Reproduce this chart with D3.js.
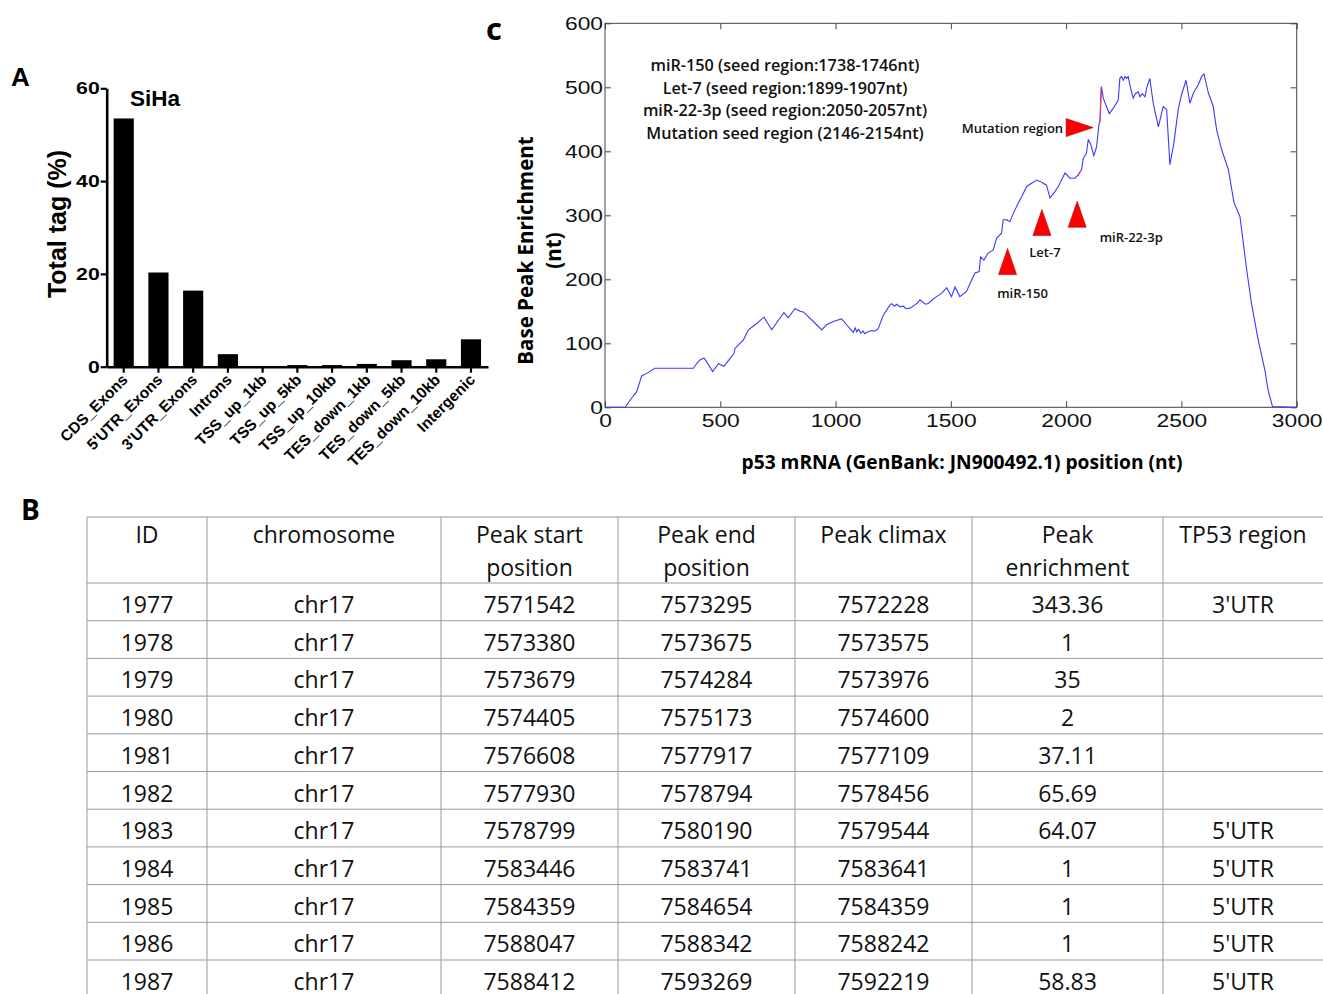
<!DOCTYPE html>
<html lang="en">
<head>
<meta charset="UTF-8">
<title>p53 peaks</title>
<script src="https://cdn.jsdelivr.net/npm/d3@7"></script>
<style>
	body { margin: 0; background: #fff; }
	svg { display: block; }
	.cal { font-family: 'Open Sans', sans-serif; }
	.ari { font-family: 'Liberation Sans', Arial, sans-serif; }
</style>
</head>
<body>
<div id="fig"></div>
<script>
// ---- panel A data
const regionNames = ['CDS_Exons', "5'UTR_Exons", "3'UTR_Exons", 'Introns', 'TSS_up_1kb', 'TSS_up_5kb',
	'TSS_up_10kb', 'TES_down_1kb', 'TES_down_5kb', 'TES_down_10kb', 'Intergenic'];
const regionTags = [53.5, 20.3, 16.4, 2.7, 0.1, 0.35, 0.35, 0.6, 1.4, 1.6, 5.9];
const tagTicks = [0, 20, 40, 60];

// ---- panel C data (p53 mRNA position, base peak enrichment)
const posNt = [0, 87, 123, 137, 159, 181, 217, 383, 397, 412, 429, 441, 467, 492, 516, 535, 559, 564, 583, 600,
	622, 658, 690, 701, 723, 752, 776, 795, 824, 846, 860, 875, 918, 940, 961, 990, 1026, 1048, 1077, 1085, 1092, 1099,
	1110, 1120, 1127, 1140, 1156, 1170, 1185, 1207, 1236, 1243, 1255, 1265, 1280, 1294, 1305, 1323, 1344, 1355, 1366,
	1380, 1390, 1402, 1420, 1438, 1460, 1482, 1503, 1518, 1539, 1568,
	1590, 1605, 1623, 1629, 1643, 1662, 1684, 1698, 1720, 1727, 1742, 1756, 1771, 1792, 1807, 1829, 1850, 1872,
	1886, 1901, 1915, 1930, 1951, 1966, 1980, 1995, 2017, 2038, 2052, 2067, 2074, 2088, 2096, 2106, 2120, 2132,
	2143, 2146, 2153, 2161, 2187, 2204, 2226, 2233, 2240, 2248, 2255, 2262, 2269, 2280, 2291, 2300, 2313, 2320, 2330,
	2342, 2350, 2363, 2370, 2378, 2400, 2421, 2436,
	2450, 2467, 2486, 2500, 2520, 2537, 2552, 2573, 2588, 2598, 2617, 2638, 2653, 2675, 2704, 2728, 2754, 2783,
	2804, 2833, 2862, 2876, 2895, 3000];
const enrich = [0, 0, 18, 24, 49, 53, 61, 61, 68, 74, 77, 71, 56, 68, 64, 73, 84, 92, 99, 105,
	121, 131, 141, 134, 121, 136, 148, 140, 154, 150, 149, 144, 129, 121, 129, 134, 138, 129, 117, 124, 118, 122,
	116, 119, 115, 118, 120, 119, 123, 144, 160, 162, 158, 161, 157, 158, 154, 155, 160, 163, 168,
	164, 161, 162, 168, 173, 178, 187, 173, 188, 173, 181,
	199, 210, 212, 235, 230, 241, 246, 264, 272, 293, 293, 290, 303, 319, 329, 345, 350, 355,
	353, 350, 347, 327, 337, 345, 355, 366, 358, 358, 363, 371, 389, 397, 418, 412, 393, 407,
	444, 446, 501, 483, 459, 467, 480, 514, 517, 511, 517, 514, 517, 498, 483, 490, 493, 485, 490,
	485, 500, 514, 495, 475, 438, 470, 465,
	379, 412, 465, 488, 511, 475, 491, 504, 517, 521, 491, 470, 433, 402, 371, 320, 298, 215,
	162, 105, 58, 27, 1, 0];
const seedRanges = [[1738, 1746], [1899, 1907], [2050, 2057], [2146, 2154]];
const seedNotes = ['miR-150 (seed region:1738-1746nt)', 'Let-7 (seed region:1899-1907nt)',
	'miR-22-3p (seed region:2050-2057nt)', 'Mutation seed region (2146-2154nt)'];
const markerNames = ['miR-150', 'Let-7', 'miR-22-3p', 'Mutation region'];
const markerNt = [1746, 1895, 2048, 2117];
const markerVal = [248, 309, 322, 437];
const markerDir = ['up', 'up', 'up', 'right'];
const posTicks = [0, 500, 1000, 1500, 2000, 2500, 3000];
const enrichTicks = [0, 100, 200, 300, 400, 500, 600];

// ---- table B data
const tableHead = [['ID'], ['chromosome'], ['Peak start', 'position'], ['Peak end', 'position'],
	['Peak climax'], ['Peak', 'enrichment'], ['TP53 region']];
const peakId = [1977, 1978, 1979, 1980, 1981, 1982, 1983, 1984, 1985, 1986, 1987];
const peakChr = Array(11).fill('chr17');
const peakStart = [7571542, 7573380, 7573679, 7574405, 7576608, 7577930, 7578799, 7583446, 7584359, 7588047, 7588412];
const peakEnd = [7573295, 7573675, 7574284, 7575173, 7577917, 7578794, 7580190, 7583741, 7584654, 7588342, 7593269];
const peakClimax = [7572228, 7573575, 7573976, 7574600, 7577109, 7578456, 7579544, 7583641, 7584359, 7588242, 7592219];
const peakEnrich = ['343.36', '1', '35', '2', '37.11', '65.69', '64.07', '1', '1', '1', '58.83'];
const peakRegion = ["3'UTR", '', '', '', '', '', "5'UTR", "5'UTR", "5'UTR", "5'UTR", "5'UTR"];

const W = 1323, H = 994;
const svg = d3.select('#fig').append('svg').attr('width', W).attr('height', H);
svg.append('rect').attr('width', W).attr('height', H).attr('fill', '#fff');

// widen text horizontally around its anchor (source figure fonts are wide)
function widen(sel, k) {
	sel.each(function () {
		const t = d3.select(this);
		const x = +t.attr('x') || 0, y = +t.attr('y') || 0;
		t.attr('transform', `translate(${x},${y}) scale(${k},1) translate(${-x},${-y})`);
	});
}

// ================= Panel A =================
const gA = svg.append('g');
const xA = d3.scaleBand().domain(regionNames).range([106.7, 488]).paddingInner(0.42).paddingOuter(0.2);
const yA = d3.scaleLinear().domain([0, 60]).range([366.7, 88.3]);

gA.selectAll('.bar').data(regionNames).enter().append('rect')
	.attr('x', d => xA(d)).attr('width', xA.bandwidth())
	.attr('y', (d, i) => yA(regionTags[i])).attr('height', (d, i) => yA(0) - yA(regionTags[i]))
	.attr('fill', '#000');

const axA_y = gA.append('g').attr('transform', 'translate(106.7,0)')
	.call(d3.axisLeft(yA).tickValues(tagTicks).tickSizeInner(6).tickSizeOuter(0).tickPadding(1));
const axA_x = gA.append('g').attr('transform', 'translate(0,366.7)')
	.call(d3.axisBottom(xA).tickSizeInner(6).tickSizeOuter(0));
[axA_y, axA_x].forEach(a => {
	a.select('.domain').attr('stroke-width', 2.6).attr('stroke', '#000');
	a.selectAll('.tick line').attr('stroke-width', 2.2).attr('stroke', '#000');
});
axA_y.selectAll('text').attr('class', 'ari').attr('font-size', 17).attr('font-weight', 'bold').attr('fill', '#000');
widen(axA_y.selectAll('text'), 1.25);
axA_x.selectAll('text').attr('class', 'ari').attr('font-size', 15.5).attr('font-weight', 'bold').attr('fill', '#000')
	.attr('text-anchor', 'end').attr('dy', null).attr('x', 5).attr('y', 14)
	.attr('transform', 'rotate(-45,5,14)');

gA.append('text').attr('class', 'ari').attr('x', 11).attr('y', 86).attr('font-size', 26).attr('font-weight', 'bold').text('A');
gA.append('text').attr('class', 'ari').attr('x', 130).attr('y', 106).attr('font-size', 22.5).attr('font-weight', 'bold').text('SiHa');
gA.append('text').attr('class', 'ari').attr('font-size', 25).attr('font-weight', 'bold')
	.attr('text-anchor', 'middle').attr('transform', 'translate(66,224) rotate(-90)').text('Total tag (%)');

// ================= Panel C =================
const gC = svg.append('g');
const xC = d3.scaleLinear().domain([0, 3000]).range([605, 1296.7]);
const yC = d3.scaleLinear().domain([0, 600]).range([407.3, 23.3]);
const frameCol = '#444';

gC.append('rect').attr('x', xC(0)).attr('y', yC(600)).attr('width', xC(3000) - xC(0)).attr('height', yC(0) - yC(600))
	.attr('fill', 'none').attr('stroke', frameCol).attr('stroke-width', 1);

const axC_b = gC.append('g').attr('transform', `translate(0,${yC(0)})`)
	.call(d3.axisBottom(xC).tickValues(posTicks).tickSizeInner(-6).tickSizeOuter(0).tickPadding(6).tickFormat(d3.format('d')));
const axC_l = gC.append('g').attr('transform', `translate(${xC(0)},0)`)
	.call(d3.axisLeft(yC).tickValues(enrichTicks).tickSizeInner(-6).tickSizeOuter(0).tickPadding(2));
const axC_t = gC.append('g').attr('transform', `translate(0,${yC(600)})`)
	.call(d3.axisTop(xC).tickValues(posTicks).tickSizeInner(-6).tickSizeOuter(0).tickFormat(''));
const axC_r = gC.append('g').attr('transform', `translate(${xC(3000)},0)`)
	.call(d3.axisRight(yC).tickValues(enrichTicks).tickSizeInner(-6).tickSizeOuter(0).tickFormat(''));
[axC_b, axC_l, axC_t, axC_r].forEach(a => {
	a.select('.domain').remove();
	a.selectAll('.tick line').attr('stroke', frameCol);
});
[axC_b, axC_l].forEach(a => {
	a.selectAll('text').attr('class', 'ari').attr('font-size', 19).attr('fill', '#111');
	widen(a.selectAll('text'), 1.2);
});

const pts = posNt.map((p, i) => [p, enrich[i]]);
const line = d3.line().x(d => xC(d[0])).y(d => yC(d[1]));
gC.append('path').datum(pts).attr('d', line).attr('fill', 'none').attr('stroke', '#3a3aff').attr('stroke-width', 1.1);

// seed regions in red
const defs = svg.append('defs');
seedRanges.forEach((r, i) => {
	defs.append('clipPath').attr('id', 'seed' + i).append('rect')
		.attr('x', xC(r[0])).attr('width', Math.max(xC(r[1]) - xC(r[0]), 1.5)).attr('y', 0).attr('height', H);
	gC.append('path').datum(pts).attr('d', line).attr('fill', 'none').attr('stroke', '#ff3030')
		.attr('stroke-width', 1.3).attr('clip-path', `url(#seed${i})`);
});

// seed note block
gC.append('g').selectAll('text').data(seedNotes).enter().append('text')
	.attr('class', 'cal').attr('x', 785).attr('y', (d, i) => 71 + i * 22.7)
	.attr('text-anchor', 'middle').attr('font-size', 16.2).attr('font-weight', 600).attr('fill', '#111').text(d => d);

// markers
const labelPos = {
	'miR-150': { dx: 15, dy: 49, anchor: 'middle' },
	'Let-7': { dx: 3, dy: 47, anchor: 'middle' },
	'miR-22-3p': { dx: 54, dy: 41, anchor: 'middle' },
	'Mutation region': { dx: -30, dy: 5, anchor: 'end' }
};
markerNames.forEach((name, i) => {
	const tx = xC(markerNt[i]), ty = yC(markerVal[i]);
	let d;
	if (markerDir[i] === 'up') d = `M${tx},${ty} L${tx + 9},${ty + 26} L${tx - 9},${ty + 26} Z`;
	else d = `M${tx},${ty} L${tx - 27},${ty - 9} L${tx - 27},${ty + 9} Z`;
	gC.append('path').attr('d', d).attr('fill', '#ff0000').attr('stroke', '#a00').attr('stroke-width', 0.6);
	const lp = labelPos[name];
	gC.append('text').attr('class', 'cal').attr('x', tx + lp.dx).attr('y', ty + lp.dy)
		.attr('text-anchor', lp.anchor).attr('font-size', 13).attr('font-weight', 600).attr('fill', '#111').text(name);
});

gC.append('text').attr('class', 'cal').attr('x', 486).attr('y', 40).attr('font-size', 31).attr('font-weight', 'bold').text('c');
gC.append('text').attr('class', 'cal').attr('font-size', 20.5).attr('font-weight', 'bold').attr('text-anchor', 'middle')
	.attr('transform', 'translate(533,250.5) rotate(-90)').text('Base Peak Enrichment');
gC.append('text').attr('class', 'cal').attr('font-size', 20.5).attr('font-weight', 'bold').attr('text-anchor', 'middle')
	.attr('transform', 'translate(561,250.5) rotate(-90)').text('(nt)');
gC.append('text').attr('class', 'cal').attr('x', 962).attr('y', 469).attr('font-size', 19.2).attr('font-weight', 'bold')
	.attr('text-anchor', 'middle').text('p53 mRNA (GenBank: JN900492.1) position (nt)');

// ================= Table B =================
const gB = svg.append('g');
gB.append('text').attr('class', 'cal').attr('x', 21).attr('y', 520).attr('font-size', 28).attr('font-weight', 'bold').text('B');

const colEdges = [87, 207, 441, 618, 795, 972, 1163, 1323];
const headTop = 517, headBottom = 583, rowH = 37.7;
const rows = peakId.map((id, i) => [id, peakChr[i], peakStart[i], peakEnd[i], peakClimax[i], peakEnrich[i], peakRegion[i]]);
const rowY = d3.range(rows.length + 1).map(i => headBottom + i * rowH);
const gridCol = '#999';

[headTop].concat(rowY).forEach(y => gB.append('line').attr('x1', colEdges[0]).attr('x2', W).attr('y1', y).attr('y2', y)
	.attr('stroke', gridCol).attr('stroke-width', 1));
colEdges.slice(0, -1).forEach(x => gB.append('line').attr('x1', x).attr('x2', x).attr('y1', headTop).attr('y2', H)
	.attr('stroke', gridCol).attr('stroke-width', 1));

const colMid = colEdges.slice(0, -1).map((x, i) => (x + colEdges[i + 1]) / 2);
tableHead.forEach((lines, c) => {
	lines.forEach((t, j) => gB.append('text').attr('class', 'cal').attr('x', colMid[c]).attr('y', 543 + j * 32.5)
		.attr('text-anchor', 'middle').attr('font-size', 23).attr('fill', '#111').text(t));
});
rows.forEach((r, i) => {
	r.forEach((v, c) => gB.append('text').attr('class', 'cal').attr('x', colMid[c]).attr('y', rowY[i] + 30)
		.attr('text-anchor', 'middle').attr('font-size', 23).attr('fill', '#111').text(v));
});
</script>
</body>
</html>
